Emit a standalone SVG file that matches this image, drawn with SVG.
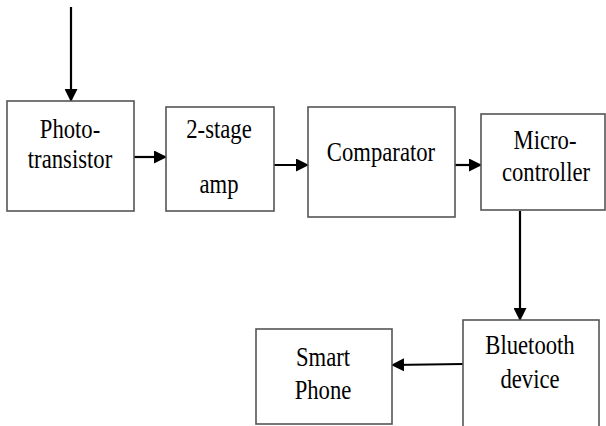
<svg xmlns="http://www.w3.org/2000/svg" width="606" height="426" viewBox="0 0 606 426">
<defs>
<marker id="ah" markerWidth="13" markerHeight="13" refX="12" refY="6.5" orient="auto" markerUnits="userSpaceOnUse" viewBox="0 0 13 13">
<path d="M0,0 L13,6.5 L0,13 Z" fill="#000"/>
</marker>
<style>
.box{fill:#fff;stroke:#555;stroke-width:1.6}
.c{stroke:#000;stroke-width:2.2;fill:none}
text{font-family:"Times New Roman","Liberation Serif","DejaVu Serif",serif}
</style>
</defs>
<rect width="606" height="426" fill="#fff"/>
<g id="connectors">
<line class="c" marker-end="url(#ah)" x1="71" y1="7" x2="71" y2="101"/>
<line class="c" marker-end="url(#ah)" x1="134" y1="157" x2="166" y2="157"/>
<line class="c" marker-end="url(#ah)" x1="274" y1="165" x2="308" y2="165"/>
<line class="c" marker-end="url(#ah)" x1="455" y1="165" x2="481" y2="165"/>
<line class="c" marker-end="url(#ah)" x1="520" y1="211" x2="520" y2="320"/>
<line class="c" marker-end="url(#ah)" x1="463" y1="364" x2="392" y2="365"/>
</g>
<g font-size="27" fill="#000" text-anchor="middle">
<g id="phototransistor">
<rect class="box" x="7" y="101" width="127" height="110"/>
<text transform="translate(70 138) scale(0.84 1)">Photo-</text>
<text transform="translate(70 168) scale(0.84 1)">transistor</text>
</g>
<g id="amp">
<rect class="box" x="166" y="107" width="108" height="104"/>
<text transform="translate(219 138) scale(0.84 1)">2-stage</text>
<text transform="translate(219 193) scale(0.84 1)">amp</text>
</g>
<g id="comparator">
<rect class="box" x="308" y="107" width="147" height="110"/>
<text transform="translate(381 161) scale(0.84 1)">Comparator</text>
</g>
<g id="microcontroller">
<rect class="box" x="481" y="114" width="124" height="96"/>
<text transform="translate(545 149) scale(0.84 1)">Micro-</text>
<text transform="translate(546 181) scale(0.84 1)">controller</text>
</g>
<g id="bluetooth">
<rect class="box" x="463" y="320" width="136" height="120"/>
<text transform="translate(530 354) scale(0.84 1)">Bluetooth</text>
<text transform="translate(530 388) scale(0.84 1)">device</text>
</g>
<g id="smartphone">
<rect class="box" x="256" y="329" width="136" height="95"/>
<text transform="translate(323 366) scale(0.84 1)">Smart</text>
<text transform="translate(323 399) scale(0.84 1)">Phone</text>
</g>
</g>
</svg>
